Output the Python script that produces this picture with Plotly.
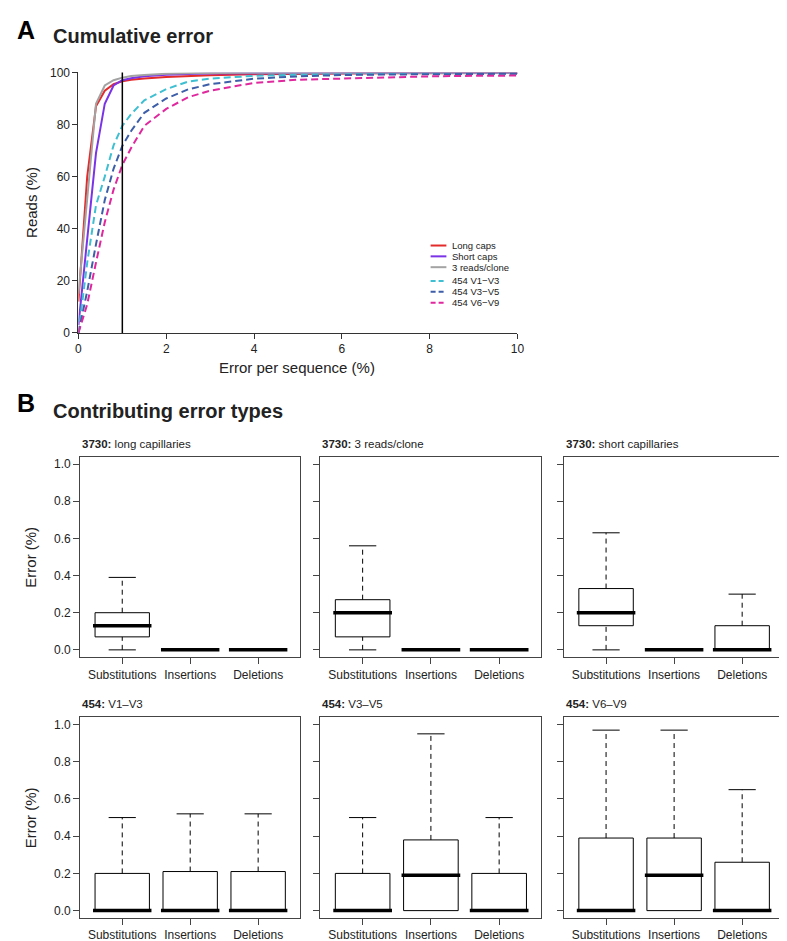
import plotly.graph_objects as go

W, H = 787, 941
FONT = "Liberation Sans, Arial, Helvetica, sans-serif"
TXT = "#222222"

# ---------------- Panel A data: cumulative error ----------------
error_x = [0, 0.2, 0.4, 0.6, 0.8, 1.0, 1.2, 1.5, 2, 2.5, 3, 4, 5, 6, 7, 8, 9, 10]
long_caps = [12, 60, 87, 93, 95.5, 96.6, 97.2, 97.7, 98.2, 98.6, 98.9, 99.3, 99.5, 99.6, 99.7, 99.7, 99.8, 99.8]
short_caps = [3, 35, 69, 88, 95, 97, 97.8, 98.5, 99.1, 99.4, 99.6, 99.7, 99.8, 99.8, 99.8, 99.8, 99.8, 99.8]
reads3_clone = [15, 52, 88, 95, 97, 98, 98.6, 99.0, 99.5, 99.7, 99.8, 99.9, 99.9, 99.9, 99.9, 99.9, 99.9, 99.9]
v1_v3 = [0, 27, 49, 60, 72, 79.5, 84, 89.3, 93.6, 96.5, 97.6, 98.7, 99.1, 99.3, 99.4, 99.5, 99.5, 99.5]
v3_v5 = [0, 16, 34, 51, 63, 71.8, 77.5, 84.5, 90, 93.5, 95.5, 97.6, 98.5, 99.0, 99.2, 99.3, 99.4, 99.5]
v6_v9 = [0, 11, 27, 42.5, 55, 64.5, 71, 79.5, 86, 90.5, 93, 96, 97.2, 97.7, 98.2, 98.5, 98.7, 98.8]
CUTOFF = 1

series_names = ["Long caps", "Short caps", "3 reads/clone", "454 V1\u2212V3", "454 V3\u2212V5", "454 V6\u2212V9"]
series_values = [long_caps, short_caps, reads3_clone, v1_v3, v3_v5, v6_v9]
series_colors = ["#e32b2b", "#7a33e6", "#a3a3a3", "#3fbfd2", "#3d5ea8", "#e0289e"]
series_dash = ["solid", "solid", "solid", "7px,4px", "7px,4px", "7px,4px"]

a_xticks = [0, 2, 4, 6, 8, 10]
a_yticks = [0, 20, 40, 60, 80, 100]

# ---------------- Panel B data: contributing error types ----------------
categories = ["Substitutions", "Insertions", "Deletions"]
panel_platform = ["3730", "3730", "3730", "454", "454", "454"]
panel_label = ["long capillaries", "3 reads/clone", "short capillaries", "V1\u2013V3", "V3\u2013V5", "V6\u2013V9"]
whisker_low = [[0, 0, 0], [0, 0, 0], [0, 0, 0], [0, 0, 0], [0, 0, 0], [0, 0, 0]]
quart1 = [[0.07, 0, 0], [0.07, 0, 0], [0.13, 0, 0], [0, 0, 0], [0, 0, 0], [0, 0, 0]]
median = [[0.13, 0, 0], [0.20, 0, 0], [0.20, 0, 0], [0, 0, 0], [0, 0.19, 0], [0, 0.19, 0]]
quart3 = [[0.20, 0, 0], [0.27, 0, 0], [0.33, 0, 0.13], [0.20, 0.21, 0.21], [0.20, 0.38, 0.20], [0.39, 0.39, 0.26]]
whisker_high = [[0.39, 0, 0], [0.56, 0, 0], [0.63, 0, 0.30], [0.50, 0.52, 0.52], [0.50, 0.95, 0.50], [0.97, 0.97, 0.65]]
b_yticks = [0, 0.2, 0.4, 0.6, 0.8, 1.0]
b_yticklabels = ["0.0", "0.2", "0.4", "0.6", "0.8", "1.0"]


def px(xp):
    return xp / W


def py(yp):
    return 1 - yp / H


fig = go.Figure()

# ---- Panel A traces ----
for name, vals, col, dash in zip(series_names, series_values, series_colors, series_dash):
    fig.add_trace(go.Scatter(x=error_x, y=vals, mode="lines", name=name,
                             line=dict(color=col, width=2, dash=dash),
                             xaxis="x", yaxis="y", showlegend=False, hoverinfo="skip"))

fig.add_shape(type="line", xref="x", yref="y domain", x0=CUTOFF, x1=CUTOFF, y0=0, y1=1,
              line=dict(color="black", width=1.5))

axis_common = dict(showgrid=False, zeroline=False, showline=True, linecolor="#333333", linewidth=1,
                   ticks="outside", ticklen=5, tickwidth=1, tickcolor="#333333",
                   tickfont=dict(family=FONT, size=12, color=TXT))

layout = dict(
    width=W, height=H, margin=dict(l=0, r=0, t=0, b=0),
    paper_bgcolor="white", plot_bgcolor="white", showlegend=False,
    font=dict(family=FONT, color=TXT),
    xaxis=dict(domain=[px(68.3), px(513)], range=[0, 10], tickvals=a_xticks, anchor="y", **axis_common),
    yaxis=dict(domain=[py(322.7), py(58.3)], range=[0, 100], tickvals=a_yticks, anchor="x", **axis_common),
)

# compact legend (as in the original figure)
leg_y = [234, 245, 256, 270, 281, 292]
for name, col, dash, ly in zip(series_names, series_colors, series_dash, leg_y):
    fig.add_shape(type="line", xref="paper", yref="paper", x0=px(425), x1=px(441), y0=py(ly), y1=py(ly),
                  line=dict(color=col, width=2, dash="5px,3px" if dash != "solid" else "solid"))
    fig.add_annotation(xref="paper", yref="paper", x=px(445), y=py(ly), text=name, showarrow=False,
                       xanchor="left", yanchor="middle", font=dict(family=FONT, size=9.5, color=TXT))

# ---- Panel B ----
col_px = [(70, 293), (313.3, 537.3), (560, 783.3)]
row_px = [(448.3, 652), (712.7, 916.7)]
cat_pos = [1, 2, 3]
HALF = 0.4
CAP = 0.2

for p in range(6):
    r, c = divmod(p, 3)
    k = p + 2
    xa, ya = f"x{k}", f"y{k}"
    box_x, box_y, med_x, med_y, wh_x, wh_y, cap_x, cap_y = [], [], [], [], [], [], [], []
    for i, xc in enumerate(cat_pos):
        lo, a, m, b, hi = whisker_low[p][i], quart1[p][i], median[p][i], quart3[p][i], whisker_high[p][i]
        box_x += [xc - HALF, xc + HALF, xc + HALF, xc - HALF, xc - HALF, None]
        box_y += [a, a, b, b, a, None]
        med_x += [xc - HALF - 0.03, xc + HALF + 0.03, None]
        med_y += [m, m, None]
        if hi > b:
            wh_x += [xc, xc, None]
            wh_y += [b, hi, None]
            cap_x += [xc - CAP, xc + CAP, None]
            cap_y += [hi, hi, None]
        if lo < a:
            wh_x += [xc, xc, None]
            wh_y += [lo, a, None]
            cap_x += [xc - CAP, xc + CAP, None]
            cap_y += [lo, lo, None]
    common = dict(mode="lines", xaxis=xa, yaxis=ya, showlegend=False, hoverinfo="skip")
    fig.add_trace(go.Scatter(x=wh_x, y=wh_y, line=dict(color="black", width=1, dash="5px,4px"), **common))
    fig.add_trace(go.Scatter(x=cap_x, y=cap_y, line=dict(color="black", width=1), **common))
    fig.add_trace(go.Scatter(x=box_x, y=box_y, line=dict(color="black", width=1), **common))
    fig.add_trace(go.Scatter(x=med_x, y=med_y, line=dict(color="black", width=3.5), **common))

    x0, x1 = col_px[c]
    y0, y1 = row_px[r]
    bcommon = dict(showgrid=False, zeroline=False, showline=True, mirror=True, linecolor="#444444",
                   linewidth=1, ticks="outside", ticklen=6, tickwidth=1, tickcolor="#444444",
                   tickfont=dict(family=FONT, size=12, color=TXT))
    layout[f"xaxis{k}"] = dict(domain=[px(x0), px(x1)], range=[0.38, 3.62], anchor=ya,
                               tickvals=cat_pos, ticktext=categories, **bcommon)
    layout[f"yaxis{k}"] = dict(domain=[py(y1), py(y0)], range=[-0.04, 1.04], anchor=xa,
                               tickvals=b_yticks, ticktext=b_yticklabels, showticklabels=(c == 0), **bcommon)
    fig.add_annotation(xref="paper", yref="paper", x=px(x0), y=py(y0 - 13),
                       text=f"<b>{panel_platform[p]}:</b> {panel_label[p]}", showarrow=False,
                       xanchor="left", yanchor="middle", font=dict(family=FONT, size=11.5, color=TXT))
    if c == 0:
        fig.add_annotation(xref="paper", yref="paper", x=px(20), y=py((y0 + y1) / 2), text="Error (%)",
                           textangle=-90, showarrow=False, xanchor="center", yanchor="middle",
                           font=dict(family=FONT, size=15, color=TXT))

fig.update_layout(**layout)

# headings and axis titles
fig.add_annotation(xref="paper", yref="paper", x=px(4), y=py(15), text="<b>A</b>", showarrow=False,
                   xanchor="left", yanchor="middle", font=dict(family=FONT, size=25, color="black"))
fig.add_annotation(xref="paper", yref="paper", x=px(41), y=py(21), text="<b>Cumulative error</b>", showarrow=False,
                   xanchor="left", yanchor="middle", font=dict(family=FONT, size=20, color=TXT))
fig.add_annotation(xref="paper", yref="paper", x=px(4), y=py(394), text="<b>B</b>", showarrow=False,
                   xanchor="left", yanchor="middle", font=dict(family=FONT, size=25, color="black"))
fig.add_annotation(xref="paper", yref="paper", x=px(41), y=py(402), text="<b>Contributing error types</b>",
                   showarrow=False, xanchor="left", yanchor="middle", font=dict(family=FONT, size=20, color=TXT))
fig.add_annotation(xref="paper", yref="paper", x=px(290), y=py(358), text="Error per sequence (%)",
                   showarrow=False, xanchor="center", yanchor="middle", font=dict(family=FONT, size=15, color=TXT))
fig.add_annotation(xref="paper", yref="paper", x=px(20), y=py(190), text="Reads (%)", textangle=-90,
                   showarrow=False, xanchor="center", yanchor="middle", font=dict(family=FONT, size=15, color=TXT))

fig.write_html("out.html")
